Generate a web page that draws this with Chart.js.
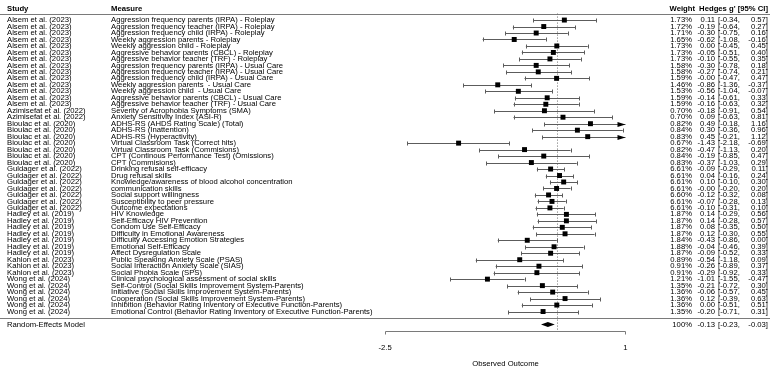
<!DOCTYPE html>
<html>
<head>
<meta charset="utf-8">
<script src="https://cdn.jsdelivr.net/npm/chart.js@4/dist/chart.umd.min.js"></script>
<style>
  body { margin: 0; background: #fff; }
  canvas { display: block; }
</style>
</head>
<body>
<canvas id="forest" width="770" height="370"></canvas>
<script>
const studies = [
  'Alsem et al. (2023)', 'Alsem et al. (2023)', 'Alsem et al. (2023)', 'Alsem et al. (2023)',
  'Alsem et al. (2023)', 'Alsem et al. (2023)', 'Alsem et al. (2023)', 'Alsem et al. (2023)',
  'Alsem et al. (2023)', 'Alsem et al. (2023)', 'Alsem et al. (2023)', 'Alsem et al. (2023)',
  'Alsem et al. (2023)', 'Alsem et al. (2023)',
  'Azimisefat et al. (2022)', 'Azimisefat et al. (2022)',
  'Bioulac et al. (2020)', 'Bioulac et al. (2020)', 'Bioulac et al. (2020)', 'Bioulac et al. (2020)',
  'Bioulac et al. (2020)', 'Bioulac et al. (2020)', 'Bioulac et al. (2020)',
  'Guldager et al. (2022)', 'Guldager et al. (2022)', 'Guldager et al. (2022)', 'Guldager et al. (2022)',
  'Guldager et al. (2022)', 'Guldager et al. (2022)', 'Guldager et al. (2022)',
  'Hadley et al. (2019)', 'Hadley et al. (2019)', 'Hadley et al. (2019)', 'Hadley et al. (2019)',
  'Hadley et al. (2019)', 'Hadley et al. (2019)', 'Hadley et al. (2019)',
  'Kahlon et al. (2023)', 'Kahlon et al. (2023)', 'Kahlon et al. (2023)',
  'Wong et al. (2024)', 'Wong et al. (2024)', 'Wong et al. (2024)', 'Wong et al. (2024)',
  'Wong et al. (2024)', 'Wong et al. (2024)'
];

const measures = [
  'Aggression frequency parents (IRPA) - Roleplay',
  'Aggression frequency teacher (IRPA) - Roleplay',
  'Aggression frequency child (IRPA) - Roleplay',
  'Weekly aggression parents - Roleplay',
  'Weekly aggression child - Roleplay',
  'Aggressive behavior parents (CBCL) - Roleplay',
  'Aggressive behavior teacher (TRF) - Roleplay',
  'Aggression frequency parents (IRPA) - Usual Care',
  'Aggression frequency teacher (IRPA) - Usual Care',
  'Aggression frequency child (IRPA) - Usual Care',
  'Weekly aggression parents  - Usual Care',
  'Weekly aggression child  - Usual Care',
  'Aggressive behavior parents (CBCL) - Usual Care',
  'Aggressive behavior teacher (TRF) - Usual Care',
  'Severity of Acrophobia Symptoms (SMA)',
  'Anxiety Sensitivity Index (ASI-R)',
  'ADHS-RS (AHDS Rating Scale) (Total)',
  'ADHS-RS (Inattention)',
  'ADHS-RS (Hyperactivity)',
  'Virtual Classroom Task (Correct hits)',
  'Virtual Classroom Task (Commisions)',
  'CPT (Continous Performance Test) (Omissions)',
  'CPT (Commisions)',
  'Drinking refusal self-efficacy',
  'Drug refusal skills',
  'Knowledge/awareness of blood alcohol concentration',
  'communication skills',
  'Social support willingness',
  'Susceptibility to peer pressure',
  'Outcome expectations',
  'HIV Knowledge',
  'Self-Efficacy HIV Prevention',
  'Condom Use Self-Efficacy',
  'Difficulty in Emotional Awareness',
  'Difficulty Accessing Emotion Strategies',
  'Emotional Self-Efficacy',
  'Affect Dysregulation Scale',
  'Public Speaking Anxiety Scale (PSAS)',
  'Social Interaction Anxiety Scale (SIAS)',
  'Social Phobia Scale (SPS)',
  'Clinical psychological assessment of social skills',
  'Self-Control (Social Skills Improvement System-Parents)',
  'Initiative (Social Skills Improvement System-Parents)',
  'Cooperation (Social Skills Improvement System-Parents)',
  'Inhibition (Behavior Rating Inventory of Executive Function-Parents)',
  'Emotional Control (Behavior Rating Inventory of Executive Function-Parents)'
];

const weights = [
  1.73, 1.72, 1.71, 1.65, 1.73, 1.73, 1.73, 1.58, 1.58, 1.59, 1.46, 1.53, 1.59, 1.59,
  0.70, 0.70,
  0.82, 0.84, 0.83, 0.67, 0.82, 0.84, 0.83,
  6.61, 6.61, 6.61, 6.61, 6.60, 6.61, 6.61,
  1.87, 1.87, 1.87, 1.87, 1.84, 1.88, 1.87,
  0.89, 0.91, 0.91,
  1.21, 1.35, 1.36, 1.36, 1.36, 1.35
];

const estimates = [
  0.11, -0.19, -0.30, -0.62, 0.00, -0.05, -0.10, -0.30, -0.27, -0.003, -0.86, -0.56, -0.14, -0.16,
  -0.18, 0.09,
  0.49, 0.30, 0.45, -1.43, -0.47, -0.19, -0.37,
  -0.09, 0.04, 0.10, -0.003, -0.12, -0.07, -0.10,
  0.14, 0.14, 0.08, 0.12, -0.43, -0.04, -0.09,
  -0.54, -0.26, -0.29,
  -1.01, -0.21, -0.06, 0.12, 0.00, -0.20
];

const lowers = [
  -0.34, -0.64, -0.75, -1.08, -0.45, -0.51, -0.55, -0.78, -0.74, -0.47, -1.36, -1.04, -0.61, -0.63,
  -0.91, -0.63,
  -0.18, -0.36, -0.21, -2.18, -1.13, -0.85, -1.03,
  -0.29, -0.16, -0.10, -0.20, -0.32, -0.28, -0.31,
  -0.29, -0.28, -0.35, -0.30, -0.86, -0.46, -0.52,
  -1.18, -0.89, -0.92,
  -1.55, -0.72, -0.57, -0.39, -0.51, -0.71
];

const uppers = [
  0.57, 0.27, 0.16, -0.16, 0.45, 0.40, 0.35, 0.18, 0.21, 0.47, -0.37, -0.07, 0.33, 0.32,
  0.54, 0.81,
  1.16, 0.96, 1.12, -0.69, 0.20, 0.47, 0.29,
  0.11, 0.24, 0.30, 0.20, 0.08, 0.13, 0.10,
  0.56, 0.57, 0.50, 0.55, 0.00, 0.39, 0.33,
  0.09, 0.37, 0.33,
  -0.47, 0.30, 0.45, 0.63, 0.51, 0.31
];

const summaryLabel = 'Random-Effects Model';
const summaryWeight = 100;
const summaryEstimate = -0.13;
const summaryLower = -0.23;
const summaryUpper = -0.03;

const xTicks = [-2.5, 1];
const xTitle = 'Observed Outcome';

const k = estimates.length;
const FONT = '"Liberation Sans", Arial, sans-serif';
const fmt = v => v.toFixed(2);

const points = estimates.map((v, i) => ({ x: v, y: k - i }));

const forestPlugin = {
  id: 'forest',
  beforeDatasetsDraw(chart) {
    const { ctx } = chart;
    const x = chart.scales.x;
    const y = chart.scales.y;
    const aMin = xTicks[0], aMax = xTicks[xTicks.length - 1];
    ctx.save();

    // horizontal rules
    ctx.strokeStyle = '#7a7a7a';
    ctx.lineWidth = 1;
    [k + 1, 0].forEach(p => {
      const py = Math.round(y.getPixelForValue(p)) + 0.5;
      ctx.beginPath();
      ctx.moveTo(0, py);
      ctx.lineTo(770, py);
      ctx.stroke();
    });

    // reference line at zero
    const zx = Math.round(x.getPixelForValue(0)) + 0.5;
    ctx.setLineDash([1, 2]);
    ctx.strokeStyle = '#6a6a6a';
    ctx.beginPath();
    ctx.moveTo(zx, y.getPixelForValue(k + 1));
    ctx.lineTo(zx, y.getPixelForValue(-2));
    ctx.stroke();
    ctx.setLineDash([]);

    // confidence intervals
    ctx.strokeStyle = '#5c5c5c';
    ctx.fillStyle = '#000';
    estimates.forEach((_, i) => {
      const py = Math.round(y.getPixelForValue(k - i)) + 0.5;
      const lo = Math.max(lowers[i], aMin);
      const hi = Math.min(uppers[i], aMax);
      const x1 = x.getPixelForValue(lo);
      const x2 = x.getPixelForValue(hi);
      ctx.beginPath();
      ctx.moveTo(x1, py);
      ctx.lineTo(x2, py);
      ctx.stroke();
      ctx.beginPath();
      if (lowers[i] >= aMin) {
        ctx.moveTo(Math.round(x1) + 0.5, py - 2);
        ctx.lineTo(Math.round(x1) + 0.5, py + 2);
      }
      if (uppers[i] <= aMax) {
        ctx.moveTo(Math.round(x2) + 0.5, py - 2);
        ctx.lineTo(Math.round(x2) + 0.5, py + 2);
      }
      ctx.stroke();
      if (uppers[i] > aMax) {
        ctx.beginPath();
        ctx.moveTo(x2, py);
        ctx.lineTo(x2 - 8, py - 2.6);
        ctx.lineTo(x2 - 8, py + 2.6);
        ctx.closePath();
        ctx.fill();
      }
    });
    ctx.restore();
  },
  afterDatasetsDraw(chart) {
    const { ctx } = chart;
    const x = chart.scales.x;
    const y = chart.scales.y;
    ctx.save();

    // summary diamond
    const sy = y.getPixelForValue(-1);
    const h = 2.6;
    ctx.fillStyle = '#000';
    ctx.beginPath();
    ctx.moveTo(x.getPixelForValue(summaryLower), sy);
    ctx.lineTo(x.getPixelForValue(summaryEstimate), sy - h);
    ctx.lineTo(x.getPixelForValue(summaryUpper), sy);
    ctx.lineTo(x.getPixelForValue(summaryEstimate), sy + h);
    ctx.closePath();
    ctx.fill();

    // headers
    ctx.fillStyle = '#000';
    ctx.textBaseline = 'middle';
    ctx.font = 'bold 7.7px ' + FONT;
    const hy = y.getPixelForValue(k + 1.75);
    ctx.textAlign = 'left';
    ctx.fillText('Study', 7, hy);
    ctx.fillText('Measure', 111, hy);
    ctx.textAlign = 'right';
    ctx.fillText('Weight', 695, hy);
    ctx.fillText("Hedges g' [95% CI]", 768, hy);

    // rows
    ctx.font = '7.7px ' + FONT;
    const rowText = (py, w, est, lo, hi) => {
      ctx.textAlign = 'right';
      ctx.fillText(w, 692, py);
      ctx.fillText(fmt(est), 715, py);
      ctx.fillText(fmt(hi) + ']', 768, py);
      ctx.textAlign = 'left';
      ctx.fillText('[' + fmt(lo) + ',', 718, py);
    };
    estimates.forEach((v, i) => {
      const py = y.getPixelForValue(k - i);
      ctx.textAlign = 'left';
      ctx.fillText(studies[i], 7, py);
      ctx.fillText(measures[i], 111, py);
      rowText(py, fmt(weights[i]) + '%', v, lowers[i], uppers[i]);
    });
    ctx.textAlign = 'left';
    ctx.fillText(summaryLabel, 7, sy);
    rowText(sy, summaryWeight + '%', summaryEstimate, summaryLower, summaryUpper);

    // x axis
    const ay = Math.round(y.getPixelForValue(-2)) + 0.5;
    const ax1 = Math.round(x.getPixelForValue(xTicks[0])) + 0.5;
    const ax2 = Math.round(x.getPixelForValue(xTicks[xTicks.length - 1])) + 0.5;
    ctx.strokeStyle = '#7a7a7a';
    ctx.lineWidth = 1;
    ctx.beginPath();
    ctx.moveTo(ax1, ay);
    ctx.lineTo(ax2, ay);
    xTicks.forEach(t => {
      const tx = Math.round(x.getPixelForValue(t)) + 0.5;
      ctx.moveTo(tx, ay);
      ctx.lineTo(tx, ay + 3);
    });
    ctx.stroke();
    ctx.textAlign = 'center';
    xTicks.forEach(t => ctx.fillText(String(t), x.getPixelForValue(t), ay + 16));
    ctx.fillText(xTitle, (ax1 + ax2) / 2, ay + 32);
    ctx.restore();
  }
};

new Chart(document.getElementById('forest'), {
  type: 'scatter',
  data: {
    datasets: [{
      data: points,
      pointStyle: 'rect',
      pointRadius: 3.5,
      backgroundColor: '#000',
      borderColor: '#000',
      borderWidth: 0
    }]
  },
  options: {
    responsive: false,
    animation: false,
    layout: { padding: 0 },
    plugins: { legend: { display: false }, tooltip: { enabled: false } },
    scales: {
      x: { type: 'linear', min: -8.049, max: 3.046, display: false },
      y: { type: 'linear', min: -7.41, max: 48.48, display: false }
    }
  },
  plugins: [forestPlugin]
});
</script>
</body>
</html>
